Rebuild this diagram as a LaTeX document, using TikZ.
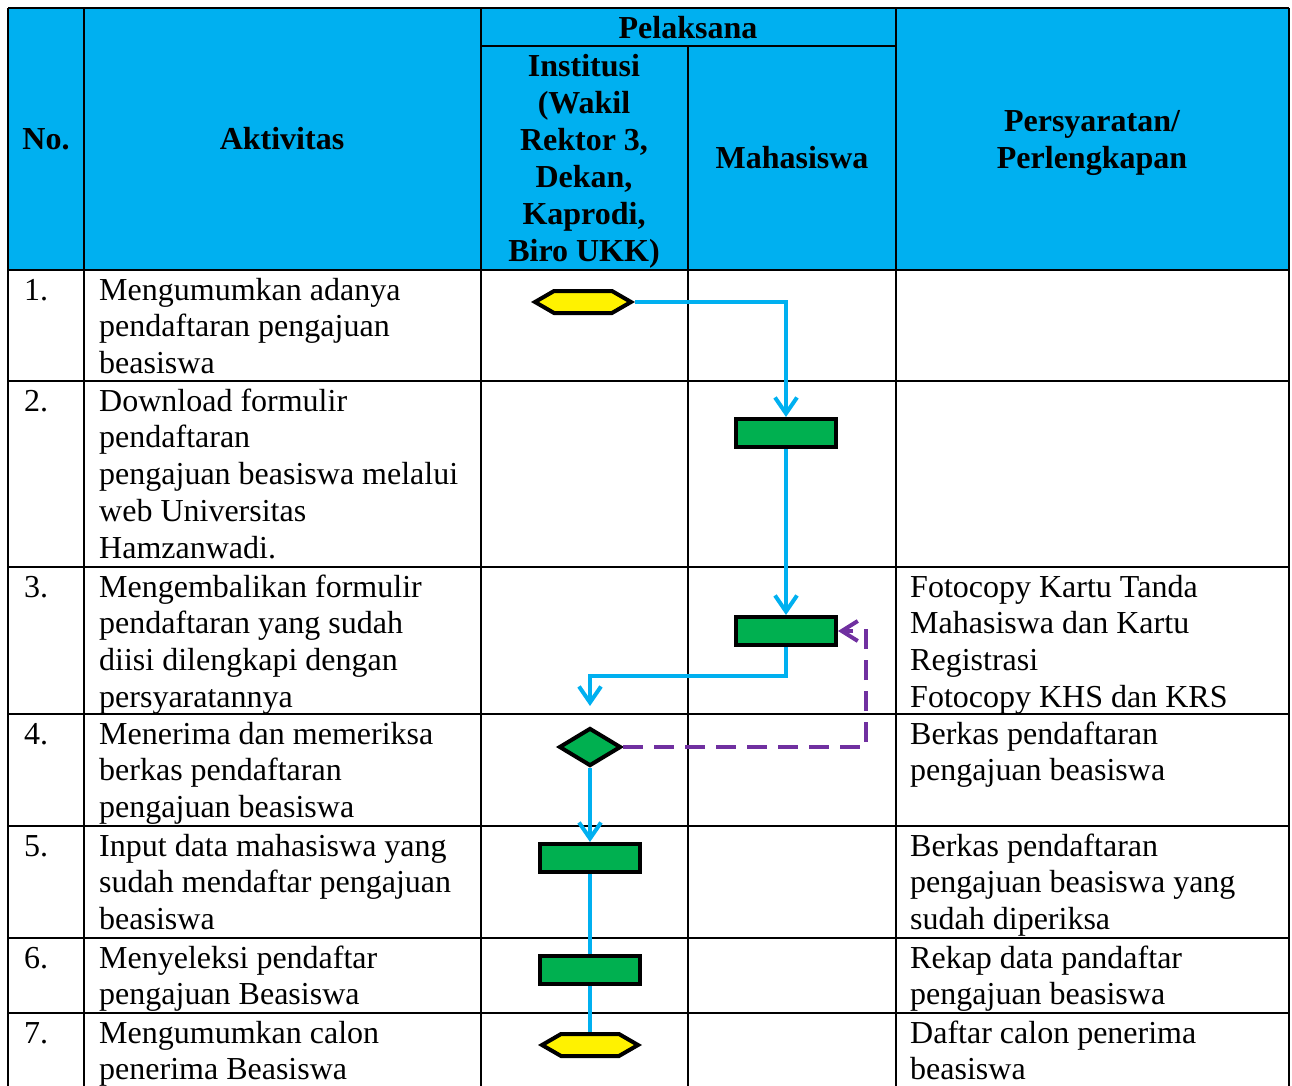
\documentclass[tikz,border=0pt]{standalone}
\usepackage{fontspec}
\setmainfont{Liberation Serif}
\usepackage{tikz}
\usetikzlibrary{shapes.geometric}
\usetikzlibrary{shapes.symbols}
\usetikzlibrary{arrows.meta}
\definecolor{headblue}{HTML}{00B0F0}
\definecolor{flowblue}{HTML}{00B0F0}
\definecolor{boxgreen}{HTML}{00B050}
\definecolor{backpurple}{HTML}{7030A0}

\begin{document}
\begin{tikzpicture}[x=1pt,y=-1pt,
    txt/.style={anchor=base west,inner sep=0pt,align=left,font=\fontsize{32}{36.8}\selectfont},
    hd/.style={anchor=base,inner sep=0pt,align=center,font=\fontsize{32}{36.8}\selectfont\bfseries},
    grid/.style={line width=2pt},
    proc/.style={rectangle,draw,line width=4pt,fill=boxgreen,minimum width=100pt,minimum height=28pt,inner sep=0pt},
    term/.style={signal,signal to=west and east,signal pointer angle=60,draw,line width=4pt,fill=yellow,minimum width=96pt,minimum height=22pt,inner sep=0pt},
    check/.style={diamond,draw,line width=4pt,fill=boxgreen,aspect=1.6,minimum width=62pt,minimum height=38pt,inner sep=0pt},
    flow/.style={draw=flowblue,line width=4pt,-{Straight Barb[length=16pt,width=22pt]}},
    plain/.style={draw=flowblue,line width=4pt},
    back/.style={draw=backpurple,line width=4pt,dash pattern=on 20pt off 11pt,-{Straight Barb[length=16pt,width=20pt]}}
    ]
  \useasboundingbox (0,0) rectangle (1292,1086);
  \clip (0,0) rectangle (1292,1086);

  \fill[headblue] (8,8) rectangle (1289,270);
  \draw[grid] (8,8) -- (1289,8);
  \draw[grid] (481,46) -- (896,46);
  \draw[grid] (8,270) -- (1289,270);
  \draw[grid] (8,381) -- (1289,381);
  \draw[grid] (8,567) -- (1289,567);
  \draw[grid] (8,714) -- (1289,714);
  \draw[grid] (8,826) -- (1289,826);
  \draw[grid] (8,938) -- (1289,938);
  \draw[grid] (8,1013) -- (1289,1013);
  \draw[grid] (8,8) -- (8,1090);
  \draw[grid] (84,8) -- (84,1090);
  \draw[grid] (481,8) -- (481,1090);
  \draw[grid] (688,46) -- (688,1090);
  \draw[grid] (896,8) -- (896,1090);
  \draw[grid] (1289,8) -- (1289,1090);

  % header (base = last line)
  \node[hd] (hno) at (46,150) {No.};
  \node[hd] (hakt) at (282,150) {Aktivitas};
  \node[hd] (hpel) at (688,39) {Pelaksana};
  \node[hd] (hins) at (584,261) {Institusi\\(Wakil\\Rektor 3,\\Dekan,\\Kaprodi,\\Biro UKK)};
  \node[hd] (hmhs) at (792,169) {Mahasiswa};
  \node[hd] (hsyr) at (1092,168.8) {Persyaratan/\\Perlengkapan};

  % rows (base = last line)
  \node[txt] (no1) at (24,300) {1.};
  \node[txt] (akt1) at (99,373.6) {Mengumumkan adanya\\pendaftaran pengajuan\\beasiswa};
  \node[txt] (no2) at (24,411) {2.};
  \node[txt] (akt2) at (99,558.2) {Download formulir\\pendaftaran\\pengajuan beasiswa melalui\\web Universitas\\Hamzanwadi.};
  \node[txt] (no3) at (24,597) {3.};
  \node[txt] (akt3) at (99,707.4) {Mengembalikan formulir\\pendaftaran yang sudah\\diisi dilengkapi dengan\\persyaratannya};
  \node[txt] (syr3) at (910,707.4) {Fotocopy Kartu Tanda\\Mahasiswa dan Kartu\\Registrasi\\Fotocopy KHS dan KRS};
  \node[txt] (no4) at (24,744) {4.};
  \node[txt] (akt4) at (99,817.6) {Menerima dan memeriksa\\berkas pendaftaran\\pengajuan beasiswa};
  \node[txt] (syr4) at (910,780.8) {Berkas pendaftaran\\pengajuan beasiswa};
  \node[txt] (no5) at (24,856) {5.};
  \node[txt] (akt5) at (99,929.6) {Input data mahasiswa yang\\sudah mendaftar pengajuan\\beasiswa};
  \node[txt] (syr5) at (910,929.6) {Berkas pendaftaran\\pengajuan beasiswa yang\\sudah diperiksa};
  \node[txt] (no6) at (24,968) {6.};
  \node[txt] (akt6) at (99,1004.8) {Menyeleksi pendaftar\\pengajuan Beasiswa};
  \node[txt] (syr6) at (910,1004.8) {Rekap data pandaftar\\pengajuan beasiswa};
  \node[txt] (no7) at (24,1043) {7.};
  \node[txt] (akt7) at (99,1079.8) {Mengumumkan calon\\penerima Beasiswa};
  \node[txt] (syr7) at (910,1079.8) {Daftar calon penerima\\beasiswa};

  % flow
  \node[term] (start) at (583,302) {};
  \node[proc] (download) at (786,433) {};
  \node[proc] (kembali) at (786,631) {};
  \node[check] (periksa) at (590,747) {};
  \node[proc] (input) at (590,858) {};
  \node[proc] (seleksi) at (590,970) {};
  \node[term] (umum) at (590,1045) {};

  \draw[flow] (start.east) -| (download.north);
  \draw[flow] (download.south) -- (kembali.north);
  \draw[flow] (kembali.south) -- ++(0,29) -| ([yshift=20pt]periksa.north);
  \draw[back] (periksa.east) -| ([xshift=28pt]kembali.east) -- (kembali.east);
  \draw[flow] (periksa.south) -- (input.north);
  \draw[plain] (input.south) -- (seleksi.north);
  \draw[plain] (seleksi.south) -- (umum.north);
\end{tikzpicture}
\end{document}
